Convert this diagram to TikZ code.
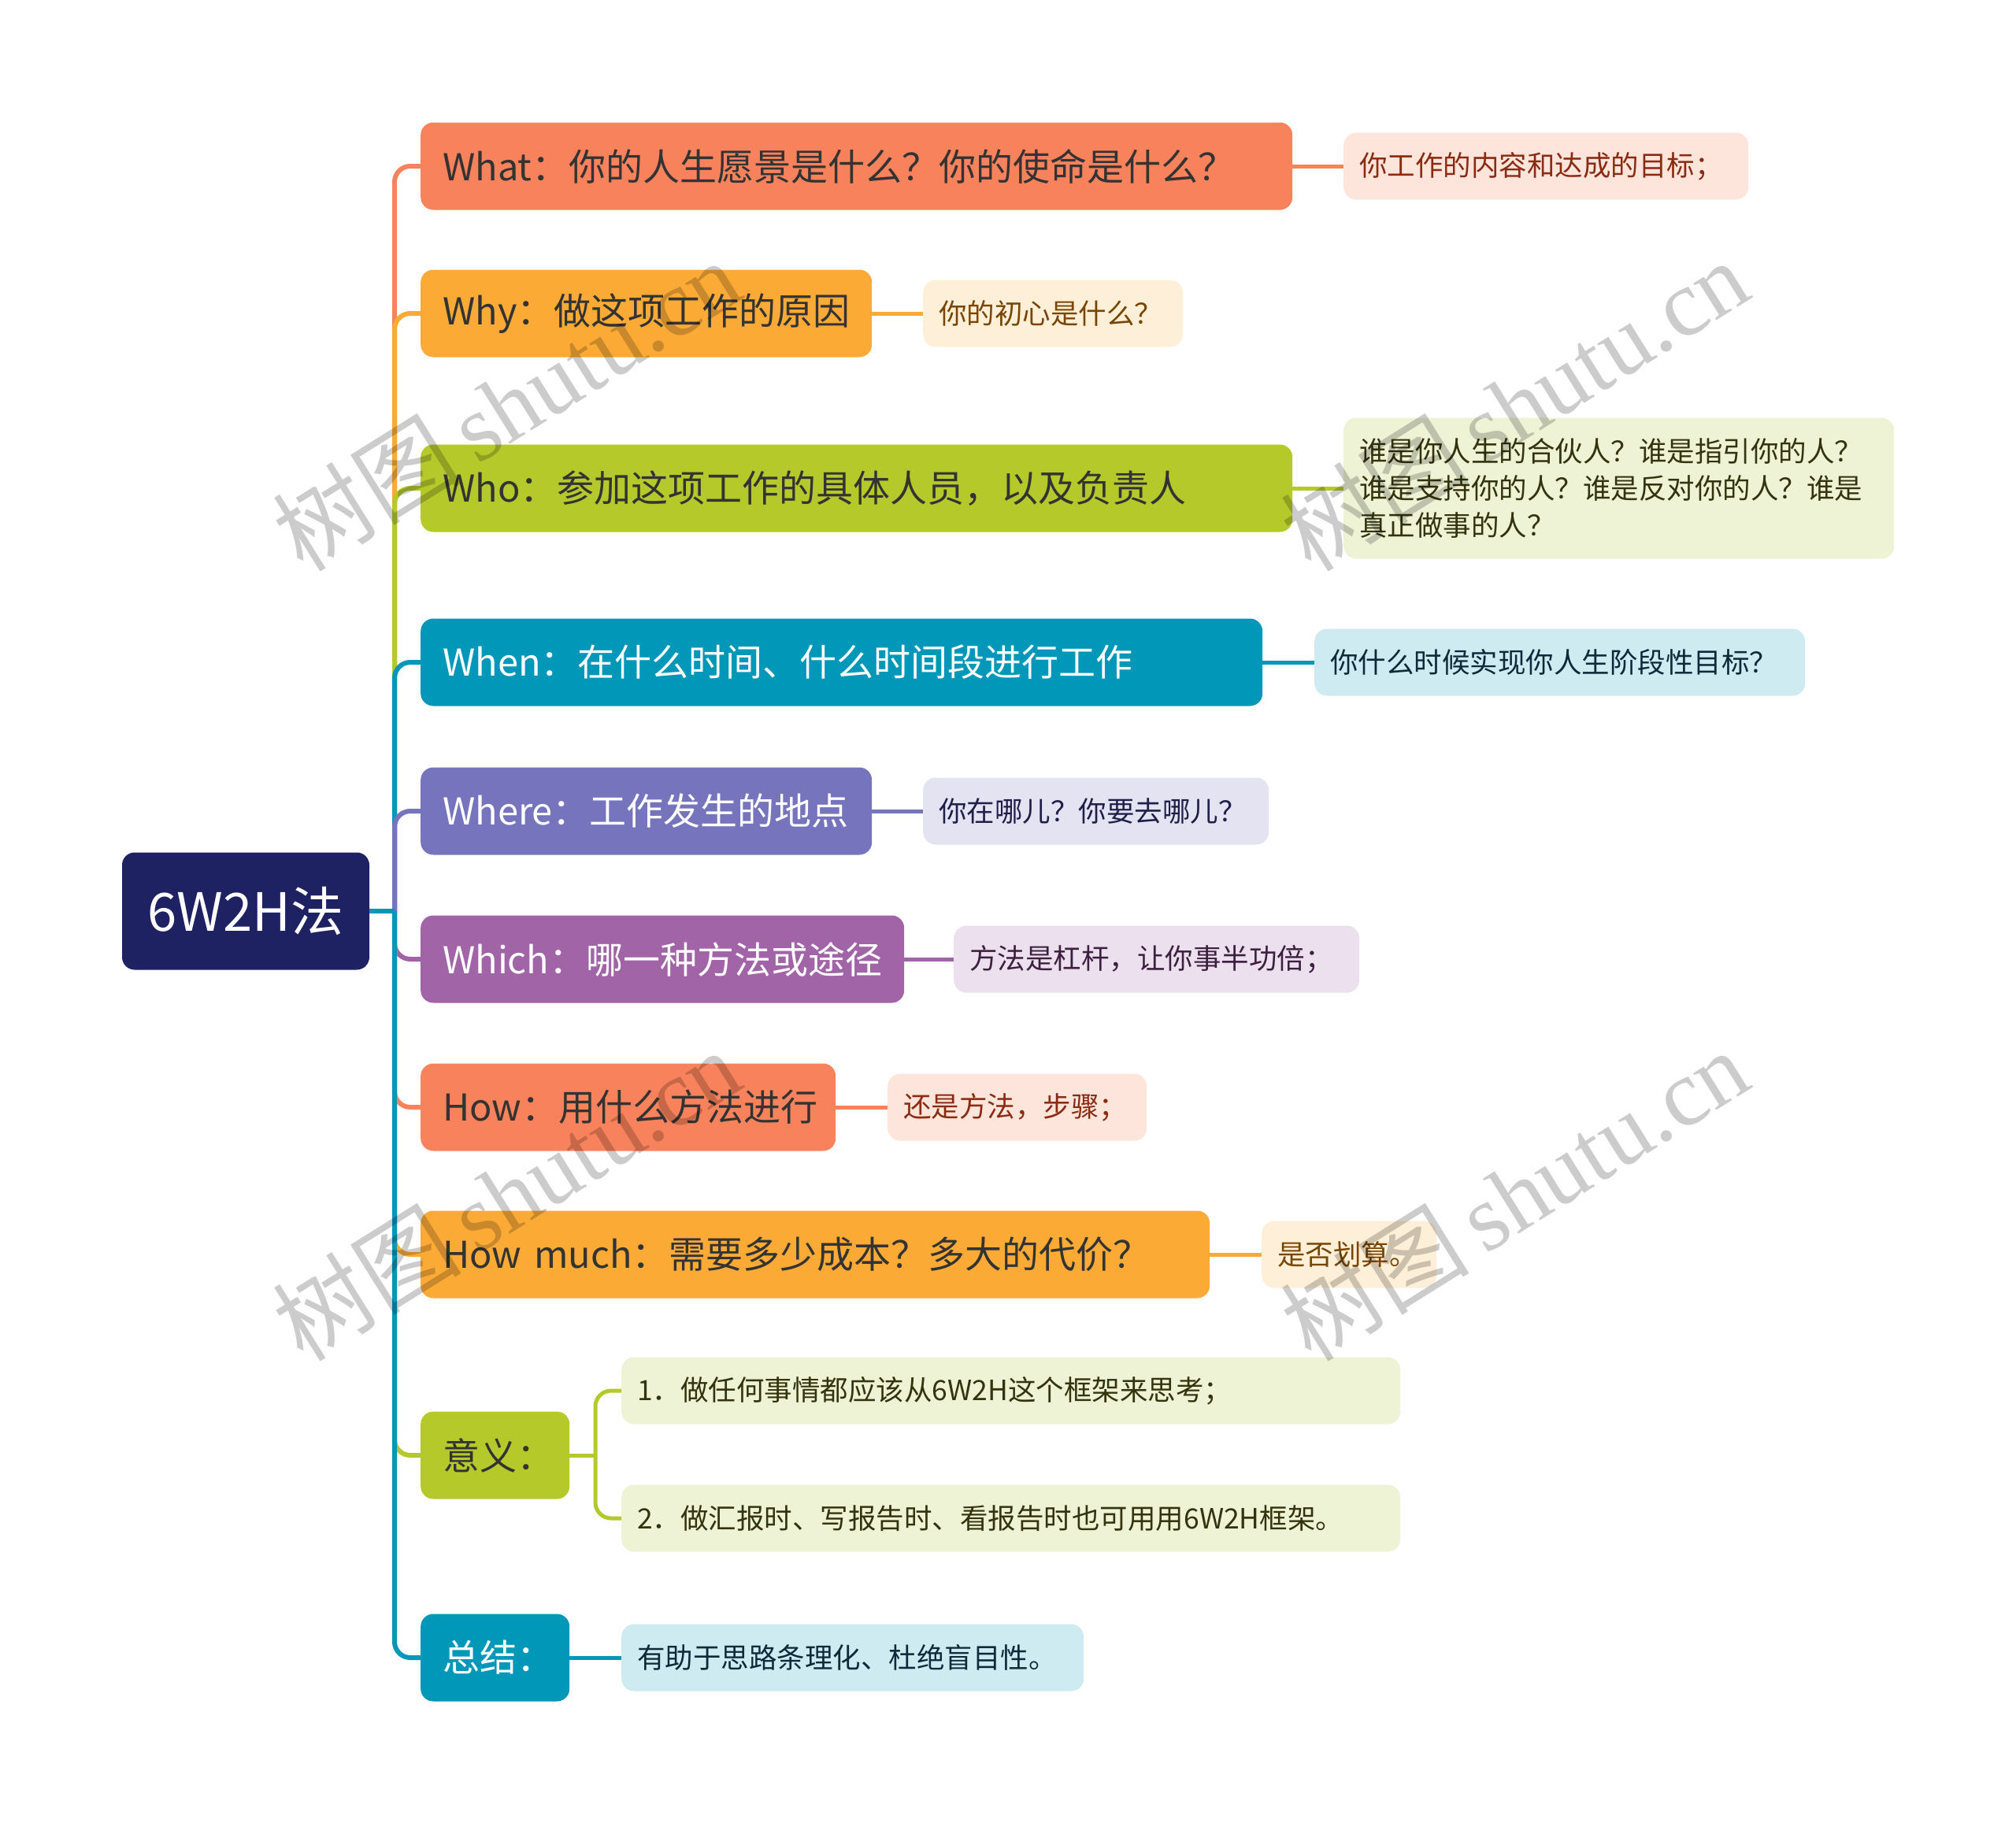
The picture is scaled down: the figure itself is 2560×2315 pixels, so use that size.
\documentclass[tikz,border=0pt]{standalone}
\usepackage{fontspec}
\setmainfont{Noto Sans CJK SC}
\newfontfamily\wmlat{Liberation Serif}
\definecolor{cCoral}{HTML}{F8825B}
\definecolor{cOrange}{HTML}{FBAA36}
\definecolor{cGreen}{HTML}{B5C92B}
\definecolor{cTeal}{HTML}{0097B8}
\definecolor{cBlue}{HTML}{7574BC}
\definecolor{cPurple}{HTML}{A164A7}
\definecolor{cNavy}{HTML}{1E2262}
\definecolor{lCoral}{HTML}{FDE5DC}
\definecolor{lOrange}{HTML}{FEF0D8}
\definecolor{lGreen}{HTML}{EFF3D6}
\definecolor{lTeal}{HTML}{CFEBF2}
\definecolor{lBlue}{HTML}{E3E3F1}
\definecolor{lPurple}{HTML}{ECE0EE}
\definecolor{tDark}{HTML}{333333}
\definecolor{tCoral}{HTML}{8A2B12}
\definecolor{tOrange}{HTML}{7A4500}
\definecolor{tGreen}{HTML}{33330D}
\definecolor{tTeal}{HTML}{0E2A3A}
\definecolor{tBlue}{HTML}{1F1F4A}
\definecolor{tPurple}{HTML}{3D1F3F}
\tikzset{
  conn/.style={line width=6pt, rounded corners=20pt},
  lconn/.style={line width=5pt},
  branchbox/.style={rounded corners=16pt, minimum height=111pt, inner xsep=28pt, inner ysep=0pt,
    anchor=west, align=left, font=\fontsize{47pt}{56pt}\selectfont},
  leafbox/.style={rounded corners=16pt, minimum height=85pt, inner xsep=20pt, inner ysep=0pt,
    anchor=west, align=left, font=\fontsize{35.5pt}{47pt}\selectfont},
  wmark/.style={rotate=32, text=black, text opacity=0.2, font=\fontsize{120pt}{130pt}\selectfont}
}
\begin{document}
\begin{tikzpicture}[x=1pt,y=-1pt]
\useasboundingbox[fill=white] (0,0) rectangle (2560,2315);
% root
\node[rounded corners=16pt, fill=cNavy, text=white, minimum width=314pt, minimum height=149pt,
  font=\fontsize{67pt}{72pt}\selectfont] (root) at (312,1157) {6W2H法};
\coordinate (hub) at (501,1157);
% branches
\node[branchbox, fill=cCoral, text=tDark, text width=1051pt] (what) at (534,211) {What：你的人生愿景是什么？你的使命是什么？};
\node[branchbox, fill=cOrange, text=tDark, text width=517pt] (why) at (534,398) {Why：做这项工作的原因};
\node[branchbox, fill=cGreen, text=tDark, text width=1051pt] (who) at (534,620) {Who：参加这项工作的具体人员，以及负责人};
\node[branchbox, fill=cTeal, text=white, text width=1013pt] (when) at (534,841) {When：在什么时间、什么时间段进行工作};
\node[branchbox, fill=cBlue, text=white, text width=517pt] (where) at (534,1030) {Where：工作发生的地点};
\node[branchbox, fill=cPurple, text=white, text width=558pt] (which) at (534,1218) {Which：哪一种方法或途径};
\node[branchbox, fill=cCoral, text=tDark, text width=471pt] (how) at (534,1406) {How：用什么方法进行};
\node[branchbox, fill=cOrange, text=tDark, text width=946pt] (howmuch) at (534,1593) {How much：需要多少成本？多大的代价？};
\node[branchbox, fill=cGreen, text=tDark, text width=133pt] (yiyi) at (534,1848) {意义：};
\node[branchbox, fill=cTeal, text=white, text width=133pt] (zongjie) at (534,2105) {总结：};
% leaves
\node[leafbox, fill=lCoral, text=tCoral, text width=474pt] (whatL) at (1706,211) {你工作的内容和达成的目标；};
\node[leafbox, fill=lOrange, text=tOrange, text width=290pt] (whyL) at (1172,398) {你的初心是什么？};
\node[leafbox, fill=lGreen, text=tGreen, text width=659pt, minimum height=179pt] (whoL) at (1706,620) {谁是你人生的合伙人？谁是指引你的人？\\谁是支持你的人？谁是反对你的人？谁是\\真正做事的人？};
\node[leafbox, fill=lTeal, text=tTeal, text width=583pt] (whenL) at (1669,841) {你什么时候实现你人生阶段性目标？};
\node[leafbox, fill=lBlue, text=tBlue, text width=399pt] (whereL) at (1172,1030) {你在哪儿？你要去哪儿？};
\node[leafbox, fill=lPurple, text=tPurple, text width=475pt] (whichL) at (1211,1218) {方法是杠杆，让你事半功倍；};
\node[leafbox, fill=lCoral, text=tCoral, text width=289pt] (howL) at (1127,1406) {还是方法，步骤；};
\node[leafbox, fill=lOrange, text=tOrange, text width=182pt] (howmuchL) at (1602,1593) {是否划算。};
\node[leafbox, fill=lGreen, text=tGreen, text width=949pt] (yiyiA) at (789,1766) {1．做任何事情都应该从6W2H这个框架来思考；};
\node[leafbox, fill=lGreen, text=tGreen, text width=949pt] (yiyiB) at (789,1928) {2．做汇报时、写报告时、看报告时也可用用6W2H框架。};
\node[leafbox, fill=lTeal, text=tTeal, text width=547pt] (zongjieL) at (789,2105) {有助于思路条理化、杜绝盲目性。};
% main connectors
\draw[conn, cCoral] (hub) |- (what.west);
\draw[conn, cOrange] (hub) |- (why.west);
\draw[conn, cGreen] (hub) |- (who.west);
\draw[conn, cTeal] (hub) |- (when.west);
\draw[conn, cBlue] (hub) |- (where.west);
\draw[conn, cPurple] (hub) |- (which.west);
\draw[conn, cCoral] (hub) |- (how.west);
\draw[conn, cOrange] (hub) |- (howmuch.west);
\draw[conn, cGreen] (hub) |- (yiyi.west);
\draw[conn, cTeal] (hub) |- (zongjie.west);
\draw[conn, cTeal] (root.east) -- (hub);
% leaf connectors
\draw[lconn, cCoral] (what.east) -- (whatL.west);
\draw[lconn, cOrange] (why.east) -- (whyL.west);
\draw[lconn, cGreen] (who.east) -- (whoL.west);
\draw[lconn, cTeal] (when.east) -- (whenL.west);
\draw[lconn, cBlue] (where.east) -- (whereL.west);
\draw[lconn, cPurple] (which.east) -- (whichL.west);
\draw[lconn, cCoral] (how.east) -- (howL.west);
\draw[lconn, cOrange] (howmuch.east) -- (howmuchL.west);
\coordinate (subhub) at (756,1848);
\draw[lconn, cGreen] (yiyi.east) -- (subhub);
\draw[lconn, cGreen, rounded corners=20pt] (subhub) |- (yiyiA.west);
\draw[lconn, cGreen, rounded corners=20pt] (subhub) |- (yiyiB.west);
\draw[lconn, cTeal] (zongjie.east) -- (zongjieL.west);
% watermarks
\node[wmark] (wm1) at (643,514) {树图\,{\wmlat shutu.cn}};
\node[wmark] (wm2) at (1923,514) {树图\,{\wmlat shutu.cn}};
\node[wmark] (wm3) at (643,1517) {树图\,{\wmlat shutu.cn}};
\node[wmark] (wm4) at (1923,1517) {树图\,{\wmlat shutu.cn}};
\end{tikzpicture}
\end{document}
